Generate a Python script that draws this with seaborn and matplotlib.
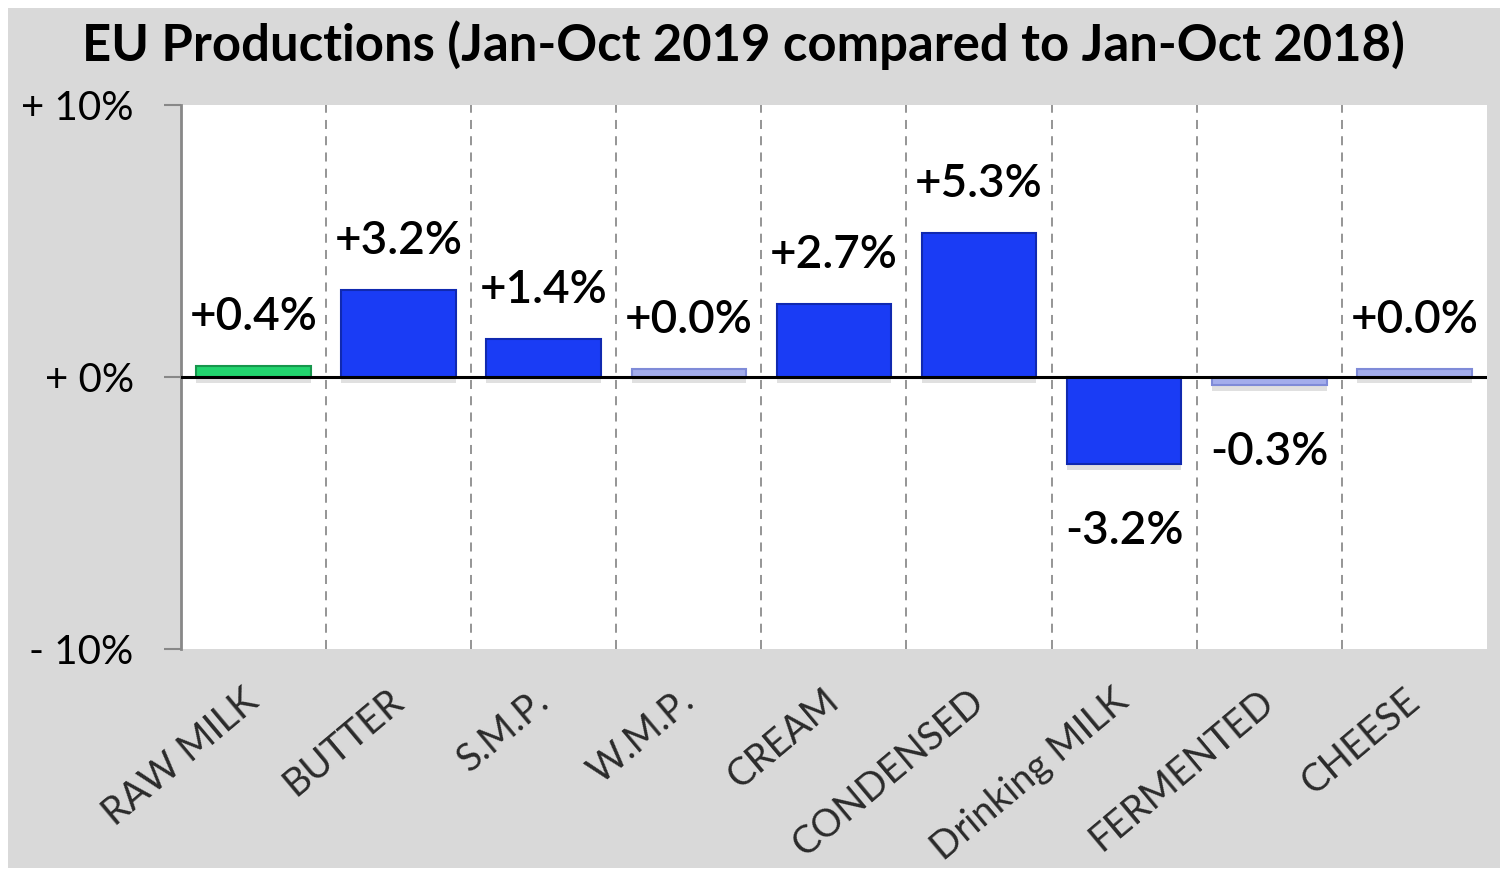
import numpy as np
import pandas as pd
import matplotlib.pyplot as plt
import matplotlib.patheffects as pe
import seaborn as sns

categories = ['RAW MILK', 'BUTTER', 'S.M.P.', 'W.M.P.', 'CREAM', 'CONDENSED',
              'Drinking MILK', 'FERMENTED', 'CHEESE']
changes = [0.4, 3.2, 1.4, 0.0, 2.7, 5.3, -3.2, -0.3, 0.0]
y_ticks = [-10, 0, 10]
y_tick_labels = ['- 10%', '+ 0%', '+ 10%']

# Excel draws near-zero bars as a thin pale strip
min_bar = 0.3
pale = [abs(v) < 0.35 for v in changes]
heights = [v if abs(v) >= min_bar else (min_bar if v >= 0 else -min_bar) for v in changes]
colors = ['#22d46e'] + ['#1a3cf5'] * (len(categories) - 1)
colors = ['#a3adec' if p else c for p, c in zip(pale, colors)]

df = pd.DataFrame({'cat': categories, 'h': heights})

sns.set_theme(style='white')
plt.rcParams['font.family'] = ['Lato', 'DejaVu Sans']

fig = plt.figure(figsize=(15.08, 8.76), dpi=100)
fig.patch.set_facecolor('#d9d9d9')
fig.patch.set_edgecolor('white')
fig.patch.set_linewidth(11.5)
ax = fig.add_axes([0.120, 0.259, 0.866, 0.621])
ax.set_facecolor('white')

sns.barplot(data=df, x='cat', y='h', hue='cat', palette=colors, legend=False,
            width=0.79, ax=ax, saturation=1)

for p, c, v in zip(ax.patches, colors, changes):
    if c == '#a3adec':
        p.set_edgecolor('#7f8bd8')
    elif c == '#22d46e':
        p.set_edgecolor('#17964c')
    else:
        p.set_edgecolor('#1029b0')
    p.set_linewidth(1.5)
    p.set_path_effects([pe.SimplePatchShadow(offset=(0, -4), shadow_rgbFace='black', alpha=0.12),
                        pe.Normal()])

# value labels
for i, (v, h) in enumerate(zip(changes, heights)):
    txt = f'{v:+.1f}%'
    if v >= 0:
        ax.annotate(txt, (i, h), xytext=(0, 20), textcoords='offset points',
                    ha='center', va='bottom', fontsize=33, fontweight='semibold', color='black')
    else:
        ax.annotate(txt, (i, h), xytext=(0, -33), textcoords='offset points',
                    ha='center', va='top', fontsize=33, fontweight='semibold', color='black')

ax.set_xlim(-0.5, len(categories) - 0.5)
ax.set_ylim(-10, 10)
ax.axhline(0, color='black', lw=2.2, zorder=3)
for b in np.arange(0.5, len(categories) - 0.5, 1):
    ax.axvline(b, color='#8c8c8c', lw=1.3, ls=(0, (5, 4)), zorder=0)

ax.set_yticks(y_ticks)
ax.set_yticklabels(y_tick_labels, fontsize=29, color='black')
ax.tick_params(axis='y', length=12, width=1.5, color='#888888', pad=22, left=True)
ax.tick_params(axis='x', length=0, pad=34)
ax.set_xticks(range(len(categories)))
ax.set_xticklabels(categories, rotation=40, ha='right', va='center', rotation_mode='anchor',
                   fontsize=27.5, color='#2a2a2a')

for s in ['top', 'right', 'bottom']:
    ax.spines[s].set_visible(False)
ax.spines['left'].set_color('#888888')
ax.spines['left'].set_linewidth(2)
ax.set_xlabel('')
ax.set_ylabel('')

fig.text(0.493, 0.948, 'EU Productions (Jan-Oct 2019 compared to Jan-Oct 2018)',
         ha='center', va='center', fontsize=36.5, fontweight='bold', color='black')

fig.savefig('out.png', dpi=100, facecolor=fig.get_facecolor(), edgecolor=fig.get_edgecolor())
